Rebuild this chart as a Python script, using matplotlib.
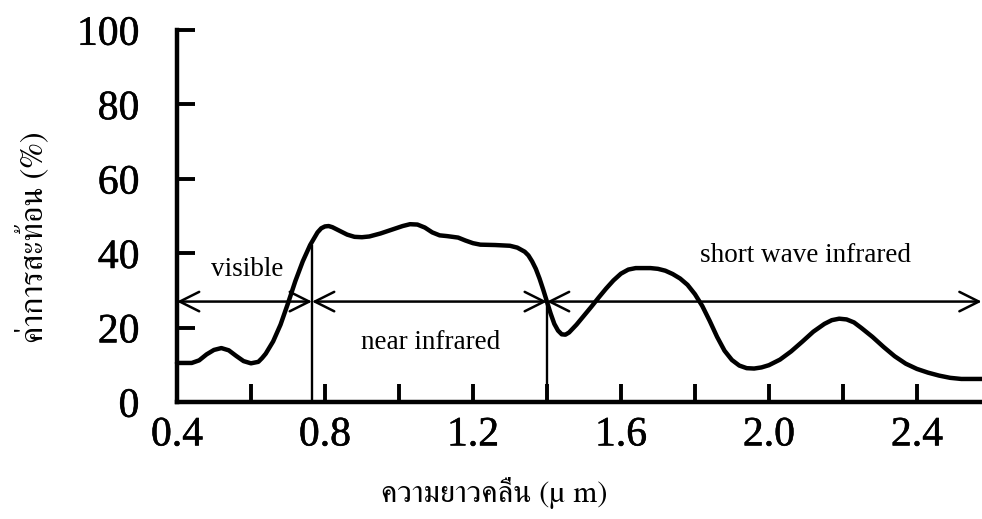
import matplotlib
matplotlib.use("Agg")
import matplotlib.pyplot as plt
import matplotlib.patheffects as pe
from matplotlib.ticker import MultipleLocator

# wavelength (um) and reflectance (%) of the spectral curve
wavelength = [0.40, 0.44, 0.46, 0.48, 0.50, 0.52, 0.54, 0.56, 0.58, 0.60,
              0.62, 0.63, 0.64, 0.66, 0.68, 0.70, 0.72, 0.74, 0.76, 0.78,
              0.79, 0.80, 0.81, 0.82, 0.84, 0.86, 0.88, 0.90, 0.92, 0.95,
              0.98, 1.01, 1.03, 1.05, 1.07, 1.09, 1.11, 1.13, 1.16, 1.18,
              1.20, 1.22, 1.26, 1.30, 1.32, 1.34, 1.35, 1.36, 1.37, 1.38,
              1.39, 1.40, 1.41, 1.42, 1.43, 1.44, 1.45, 1.46, 1.48, 1.50,
              1.52, 1.54, 1.56, 1.58, 1.60, 1.62, 1.64, 1.68, 1.70, 1.72,
              1.74, 1.76, 1.78, 1.80, 1.82, 1.84, 1.86, 1.88, 1.90, 1.92,
              1.94, 1.96, 1.98, 2.00, 2.03, 2.06, 2.09, 2.12, 2.15, 2.17,
              2.19, 2.21, 2.23, 2.25, 2.28, 2.31, 2.34, 2.37, 2.40, 2.43,
              2.46, 2.49, 2.52, 2.58]
reflectance = [10.5, 10.5, 11.2, 12.8, 14.0, 14.5, 13.9, 12.4, 11.0, 10.4,
               10.8, 11.8, 13.0, 16.3, 20.8, 26.5, 32.5, 37.8, 42.2, 45.6,
               46.7, 47.2, 47.3, 47.0, 46.0, 45.0, 44.4, 44.3, 44.5, 45.3,
               46.3, 47.3, 47.8, 47.7, 46.9, 45.6, 44.8, 44.6, 44.2, 43.4,
               42.7, 42.3, 42.2, 42.0, 41.5, 40.4, 39.4, 37.8, 35.8, 33.2,
               30.2, 27.0, 23.8, 21.0, 19.2, 18.2, 18.1, 18.7, 20.8, 23.2,
               25.6, 28.1, 30.5, 32.7, 34.5, 35.6, 36.0, 36.0, 35.8, 35.3,
               34.4, 33.2, 31.5, 29.0, 25.8, 21.8, 17.5, 13.8, 11.3, 9.8,
               9.1, 9.0, 9.3, 9.9, 11.4, 13.6, 16.2, 18.9, 21.0, 22.0,
               22.4, 22.2, 21.4, 19.9, 17.5, 14.8, 12.3, 10.3, 8.9, 7.9,
               7.1, 6.5, 6.2, 6.2]

# spectral regions and where their names sit
band_edges = [0.40, 0.765, 1.40, 2.575]
band_names = ["visible", "near infrared", "short wave infrared"]
band_label_x = [0.59, 1.085, 2.10]
band_label_y = [34.0, 14.3, 37.6]
arrow_level = 27.0
nir_edge_top = 42.0

x_ticks = [0.4, 0.8, 1.2, 1.6, 2.0, 2.4]
y_ticks = [0, 20, 40, 60, 80, 100]

serif = "Liberation Serif"
# FreeSerif carries Thai with the tone marks already stacked over upper vowels
thai_family = ["FreeSerif", serif, "DejaVu Sans"]

fig = plt.figure(figsize=(9.82, 5.19), dpi=100)
ax = fig.add_axes([0.1802, 0.2254, 0.8198, 0.7168])

ax.plot(wavelength, reflectance, color="black", lw=3.2,
        solid_joinstyle="round", solid_capstyle="round", clip_on=False)

# band boundaries
ax.plot([band_edges[1]] * 2, [0, nir_edge_top], color="black", lw=1.7)
ax.plot([band_edges[2]] * 2, [0, arrow_level], color="black", lw=1.7)

for i, name in enumerate(band_names):
    ax.annotate("", xy=(band_edges[i], arrow_level),
                xytext=(band_edges[i + 1], arrow_level),
                arrowprops=dict(arrowstyle="<->,head_length=1.4,head_width=0.7",
                                mutation_scale=10, lw=1.8, color="black",
                                shrinkA=0, shrinkB=0))
    ax.text(band_label_x[i], band_label_y[i], name, family=serif,
            fontsize=19.5, ha="center", va="baseline")

ax.set_xlim(0.4, 2.576)
ax.set_ylim(0, 100)
ax.set_xticks(x_ticks)
ax.set_xticklabels([f"{t:.1f}" for t in x_ticks])
ax.xaxis.set_minor_locator(MultipleLocator(0.2))
ax.set_yticks(y_ticks)

for side in ("top", "right"):
    ax.spines[side].set_visible(False)
for side in ("left", "bottom"):
    ax.spines[side].set_linewidth(3.2)
    ax.spines[side].set_capstyle("projecting")

ax.tick_params(which="both", direction="in", length=13, width=2.8)
ax.tick_params(axis="x", which="major", pad=10)
ax.tick_params(axis="y", which="major", pad=27)
thick = [pe.withStroke(linewidth=0.4, foreground="black")]
for lbl in ax.get_xticklabels() + ax.get_yticklabels():
    lbl.set_family(serif)
    lbl.set_fontsize(30)
    lbl.set_path_effects(thick)

fig.text(0.0326, 0.543, "ค่าการสะท้อน (%)", rotation=90, family=thai_family,
         fontsize=23, ha="center", va="center")
fig.text(0.503, 0.05, "ความยาวคลื่น (µ m)", family=thai_family,
         fontsize=22, ha="center", va="center")

fig.savefig("out.png", dpi=100, facecolor="white")
